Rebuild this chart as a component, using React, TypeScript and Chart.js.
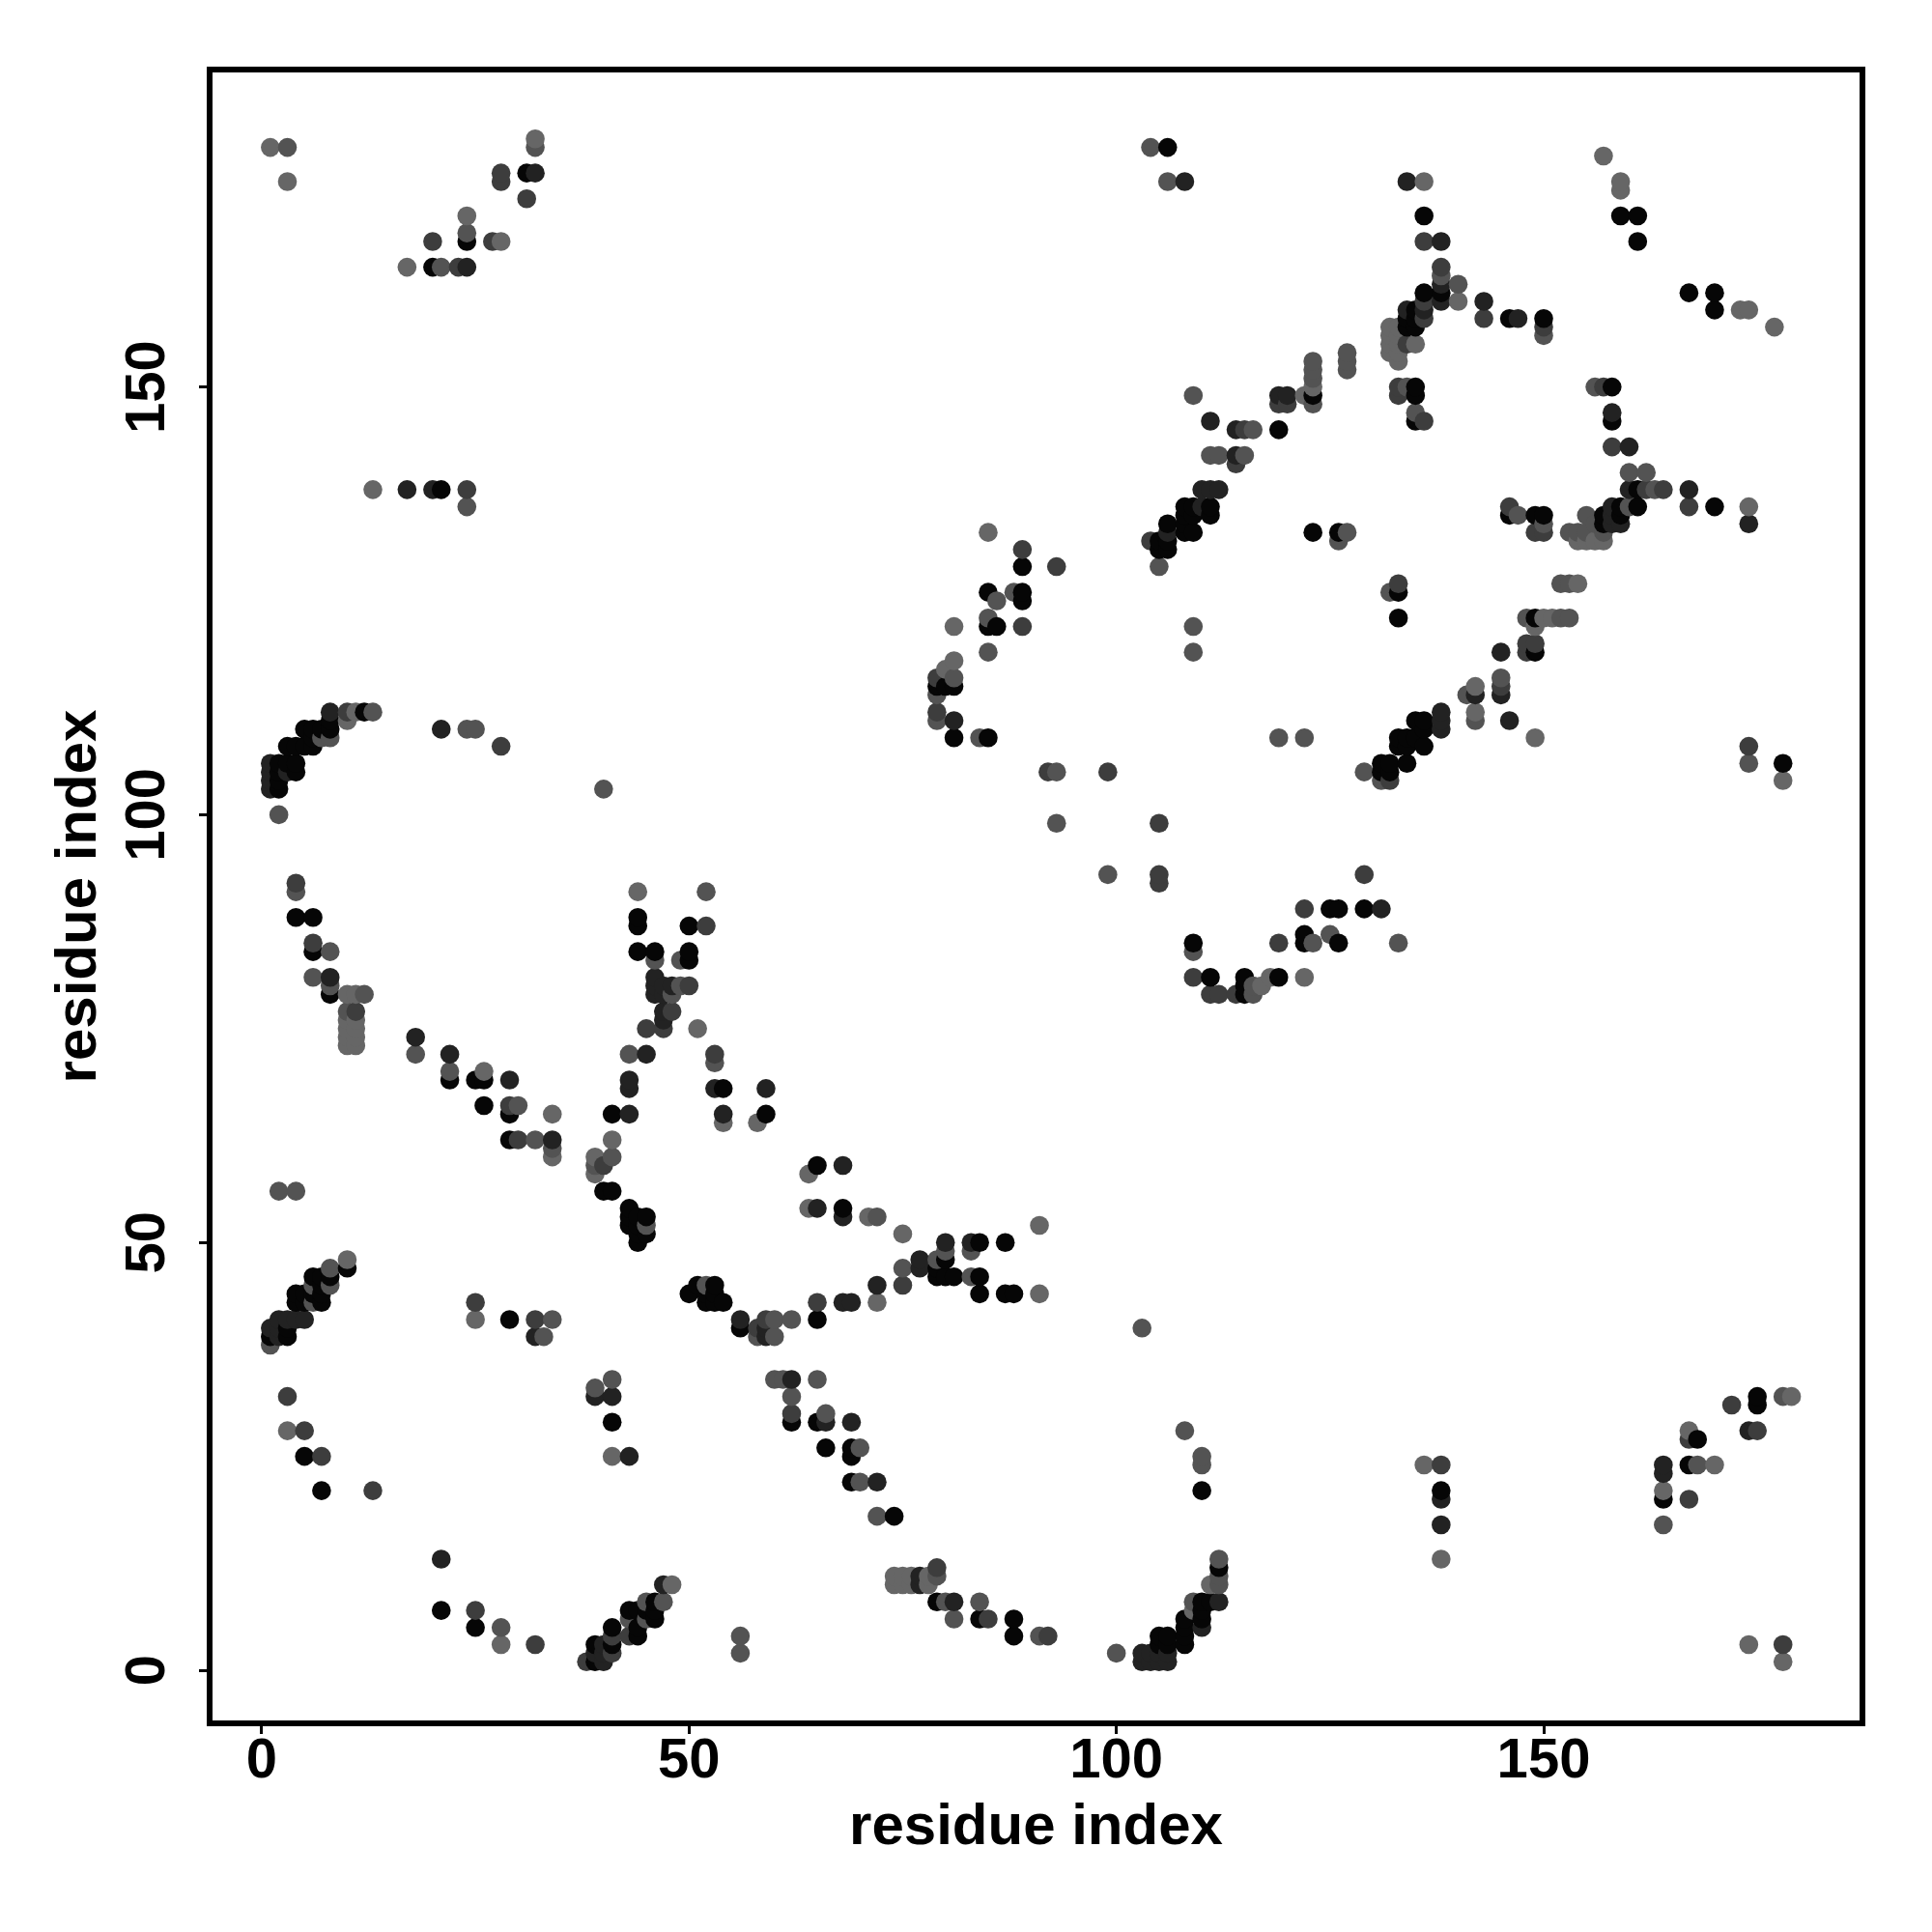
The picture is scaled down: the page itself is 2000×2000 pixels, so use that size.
import React, { useEffect, useRef } from "react";
import { Chart, registerables } from "chart.js";

Chart.register(...registerables);

type P = [number, number];

const tickValues = [0, 50, 100, 150];
const axisTitle = "residue index";

const shadeColors = ["#666666", "#535353", "#3d3d3d", "#222222", "#060606"];

const lightest: P[] = [
  [11,73],[10,73],[10,74],[11,74],[10,75],[11,75],[10,76],[11,76],[10,79],[11,79],[75,51],[71,53],[64,58],[64,54],[39,60],[39,58],[41,62],[26,70],[34,65],[34,60],[54,64],[58,64],
  [25,41],[3,28],[41,25],[28,3],[74,11],[75,11],[76,11],[74,10],[75,10],[76,10],[78,11],[78,10],[91,52],[91,44],[72,43],[136,24],[138,13],[164,21],[167,28],[170,24],[179,32],
  [10,48],[111,10],[109,7],[48,10],[10,111],[11,112],[1,178],[3,174],[32,179],[24,170],[28,167],[17,164],[13,138],[81,122],[80,117],[81,118],[85,133],[157,177],[159,174],[159,173],
  [173,159],[174,159],[177,157],[136,174],[140,160],[132,157],[132,156],[132,155],[132,154],[133,157],[133,155],[133,154],[133,153],[133,156],[135,155],[157,132],[154,132],[155,132],[156,132],
  [174,136],[154,127],[150,123],[151,123],[149,122],[142,115],[142,112],[149,109],[122,149],[123,150],[117,80],[118,81],[122,81],[44,91],[51,75],[178,1],[174,3],[178,104],
];

const midGrey: P[] = [
  [6,81],[8,80],[12,79],[10,77],[18,72],[22,70],[30,66],[32,62],[34,61],[43,72],[53,71],[72,53],[75,47],[79,48],[80,49],[83,49],[83,46],[84,8],[80,8],[81,6],[91,4],
  [8,45],[8,47],[6,45],[6,43],[1,38],[34,41],[33,39],[2,56],[4,56],[28,5],[39,33],[41,34],[56,4],[56,2],[39,59],[41,60],[45,52],[52,45],[58,39],[60,41],[60,39],[62,41],
  [60,34],[61,34],[65,34],[62,32],[66,30],[70,26],[70,22],[72,18],[108,28],[110,25],[110,24],[164,17],[168,24],[178,32],[103,40],[100,2],[112,13],[112,11],[112,10],[109,8],
  [47,8],[45,8],[45,6],[43,6],[2,100],[7,109],[8,109],[13,112],[3,178],[32,178],[24,168],[21,164],[24,136],[24,110],[25,110],[40,103],[81,116],[79,114],[79,111],[85,123],[86,125],[88,126],
  [93,105],[93,99],[99,93],[104,178],[106,174],[138,163],[140,162],[134,150],[135,147],[150,156],[156,150],[160,140],[162,140],[163,138],[160,136],[155,135],[156,134],[155,133],[153,133],[154,133],[157,133],
  [150,134],[147,135],[152,127],[153,127],[148,123],[152,123],[153,123],[141,114],[145,116],[142,111],[119,109],[122,109],[109,122],[109,119],[127,133],[126,132],[132,126],[129,105],[131,104],[174,106],[105,129],
  [109,149],[116,145],[111,142],[112,142],[115,142],[123,148],[123,151],[123,152],[123,153],[127,154],[127,153],[127,152],[109,84],[123,85],[125,86],[133,85],[116,80],[116,79],[46,83],[49,83],[48,79],[49,80],[52,91],[4,91],[8,84],[85,119],
  [84,109],[79,11],
];

const darkGrey: P[] = [
  [11,77],[29,66],[45,75],[47,75],[53,72],[65,43],[75,45],[25,43],[32,41],[3,32],[5,28],[7,25],[13,21],[25,7],[32,3],[62,30],[58,40],[59,41],[138,24],[167,27],[167,20],[172,31],[175,28],
  [40,59],[38,1],[41,2],[41,4],[43,4],[10,112],[28,108],[28,175],[28,174],[27,167],[20,167],[23,164],[24,138],[79,116],[79,112],[89,131],[93,129],[89,122],[92,105],[99,105],[105,99],[105,93],[105,92],
  [136,167],[138,164],[133,150],[133,149],[136,146],[136,160],[136,158],[134,155],[143,158],[150,157],[157,150],[158,143],[162,138],[164,138],[167,136],[146,136],[149,133],[150,133],[148,120],[149,120],[148,119],[145,115],
  [132,104],[133,127],[174,108],[104,132],[115,145],[114,141],[119,148],[120,148],[111,79],[112,79],[114,79],[119,85],[122,89],[129,93],[109,81],[52,87],[50,80],[48,77],[6,85],[4,92],
  [92,4],[178,3],[85,6],[30,62],[31,172],[79,12],
];

const nearBlack: P[] = [
  [8,81],[18,74],[22,72],[29,69],[34,62],[43,69],[43,68],[43,65],[45,72],[53,68],[54,65],[59,68],[68,53],[68,59],[65,54],[72,45],[77,48],[77,47],[80,50],[83,50],[81,8],[69,43],[68,43],[62,34],[41,32],[39,32],[21,13],[43,25],
  [66,29],[69,29],[72,22],[138,20],[138,17],[164,24],[164,23],[174,28],[2,41],[3,41],[4,41],[5,41],[1,40],[2,40],[2,39],[56,41],[59,39],[59,40],[106,1],[105,1],[104,1],[103,1],[103,2],[104,2],[105,2],[106,2],[110,5],[112,8],[47,10],[40,1],[39,2],[40,2],[40,3],
  [8,112],[1,103],[1,104],[1,105],[1,106],[3,105],[17,138],[20,138],[32,175],[24,164],[21,110],[81,111],[108,174],[134,174],[138,167],[143,160],[147,158],[136,159],[134,159],[138,162],[138,160],[158,147],[160,143],[160,138],[158,136],[158,135],[159,134],[158,134],[167,138],[174,134],[145,119],
  [145,114],[142,114],[146,111],[138,112],[138,111],[138,110],[106,133],[110,138],[111,138],[112,138],[110,136],[111,146],[114,145],[114,142],[119,149],[120,149],[131,89],[46,81],[46,80],[46,79],[47,80],[47,79],[48,80],[47,77],[47,76],
  [77,11],[77,10],[32,39],
];

const blackPoints: P[] = [
  [8,79],[22,69],[25,69],[26,69],[26,66],[29,65],[29,62],[41,65],[54,68],[59,65],[65,59],[68,54],[10,47],[6,46],[7,46],[8,46],[7,45],[6,44],[7,44],[7,43],[4,44],[5,44],[4,43],[5,43],[3,40],[3,39],[1,39],[29,41],[5,25],[7,21],[21,7],[25,5],[41,29],[40,56],[41,56],
  [43,54],[43,53],[43,52],[44,53],[44,52],[45,53],[45,51],[44,51],[44,50],[50,44],[51,45],[53,45],[52,44],[53,44],[52,43],[53,43],[54,43],[56,40],[62,29],[65,29],[66,26],[69,26],[69,25],[69,22],[74,18],[79,47],[79,46],[80,48],[80,46],[81,46],[79,8],
  [84,6],[88,6],[88,4],[87,50],[84,50],[84,46],[84,44],[87,44],[88,44],[65,41],[110,21],[138,21],[164,20],[168,27],[167,24],[175,32],[175,31],[112,12],[111,8],[110,8],[110,7],[110,6],[108,6],[108,5],[108,4],[108,3],[106,4],[105,4],[106,3],[105,3],
  [46,8],[46,6],[46,7],[45,7],[43,7],[44,7],[44,5],[44,4],[41,5],[41,3],[39,3],[39,1],[2,103],[2,104],[2,105],[2,106],[3,106],[4,106],[4,105],[3,108],[4,108],[5,108],[6,108],[5,110],[6,110],[7,110],[8,110],[6,109],[8,111],[12,112],[31,175],[24,167],[20,164],[21,138],
  [81,115],[80,115],[79,115],[81,109],[85,109],[85,126],[85,122],[86,122],[89,129],[89,126],[89,125],[106,178],[136,170],[159,170],[161,170],[161,167],[167,161],[170,161],[170,159],[136,161],[138,161],[135,159],[134,158],[135,158],[134,157],[135,157],[135,150],[135,149],[135,146],
  [146,158],[150,158],[158,150],[158,146],[161,138],[161,136],[159,136],[157,135],[159,135],[157,134],[149,135],[150,135],[146,135],[149,123],[149,119],[135,111],[136,111],[136,110],[136,108],[135,109],[133,109],[134,109],[133,108],[134,108],[134,106],[132,106],[131,106],[131,105],[132,105],
  [133,126],[133,123],[123,133],[126,133],[178,106],[170,136],[105,132],[106,132],[105,131],[106,131],[106,134],[108,136],[109,136],[108,135],[109,135],[111,136],[111,135],[108,134],[109,133],[108,133],[119,145],[123,149],[109,85],[122,86],[122,85],[125,89],[126,89],[129,89],[126,85],
  [111,81],[115,81],[115,80],[115,79],[119,81],[44,88],[44,87],[50,87],[44,84],[46,84],[50,84],[50,83],[4,88],[6,88],[6,84],
];

const layers = [lightest, midGrey, darkGrey, nearBlack, blackPoints];

// The reference paints its contacts in order of x, then y.
const contacts = layers
  .flatMap((pts, shade) => pts.map(([x, y]) => ({ x, y, shade })))
  .sort((a, b) => a.x - b.x || a.y - b.y);

const frame = {
  id: "frame",
  afterDatasetsDraw(chart: any) {
    const { ctx, chartArea: a } = chart;
    ctx.save();
    ctx.strokeStyle = "#000";
    ctx.lineWidth = 6;
    ctx.strokeRect(a.left, a.top, a.right - a.left, a.bottom - a.top);
    ctx.restore();
  },
};

export default function App() {
  const ref = useRef<HTMLCanvasElement>(null);
  useEffect(() => {
    const font = "'Liberation Sans', Arial, sans-serif";
    const grid = {
      drawOnChartArea: false,
      drawTicks: true,
      tickLength: 11,
      tickWidth: 3,
      tickColor: "#000",
      color: "#000",
    };
    const chart = new Chart(ref.current!, {
      type: "scatter",
      data: {
        datasets: [
          {
            data: contacts.map(({ x, y }) => ({ x, y })),
            pointBackgroundColor: contacts.map((c) => shadeColors[c.shade]),
            pointBorderWidth: 0,
            pointRadius: 9.8,
          },
        ],
      },
      options: {
        animation: false,
        responsive: false,
        devicePixelRatio: 1,
        layout: { padding: { top: 72, right: 72, left: 0, bottom: 0 } },
        plugins: { legend: { display: false }, tooltip: { enabled: false } },
        scales: {
          x: {
            type: "linear",
            min: -6.1,
            max: 187.3,
            afterBuildTicks: (s: any) => { s.ticks = tickValues.map((value) => ({ value })); },
            afterFit: (s: any) => { s.height = 216; },
            border: { display: false },
            grid,
            ticks: {
              includeBounds: false,
              color: "#000",
              padding: -6,
              maxRotation: 0,
              autoSkip: false,
              font: { family: font, size: 58, weight: "bold" },
            },
            title: {
              display: true,
              text: axisTitle,
              color: "#000",
              font: { family: font, size: 60, weight: "bold", lineHeight: 1 },
              padding: { top: 0, bottom: 78 },
            },
          },
          y: {
            type: "linear",
            min: -6.2,
            max: 187.1,
            afterBuildTicks: (s: any) => { s.ticks = tickValues.map((value) => ({ value })); },
            afterFit: (s: any) => { s.width = 217; },
            border: { display: false },
            grid,
            ticks: {
              includeBounds: false,
              color: "#000",
              padding: 4,
              minRotation: 90,
              maxRotation: 90,
              crossAlign: "center",
              autoSkip: false,
              font: { family: font, size: 58, weight: "bold" },
            },
            title: {
              display: true,
              text: axisTitle,
              color: "#000",
              font: { family: font, size: 60, weight: "bold", lineHeight: 1 },
              padding: { top: 52, bottom: 0 },
            },
          },
        },
      },
      plugins: [frame],
    } as any);
    return () => chart.destroy();
  }, []);
  return (
    <div style={{ position: "absolute", left: 0, top: 0, width: 2000, height: 2000, background: "#fff" }}>
      <canvas ref={ref} width={2000} height={2000} style={{ display: "block", width: 2000, height: 2000 }} />
    </div>
  );
}
